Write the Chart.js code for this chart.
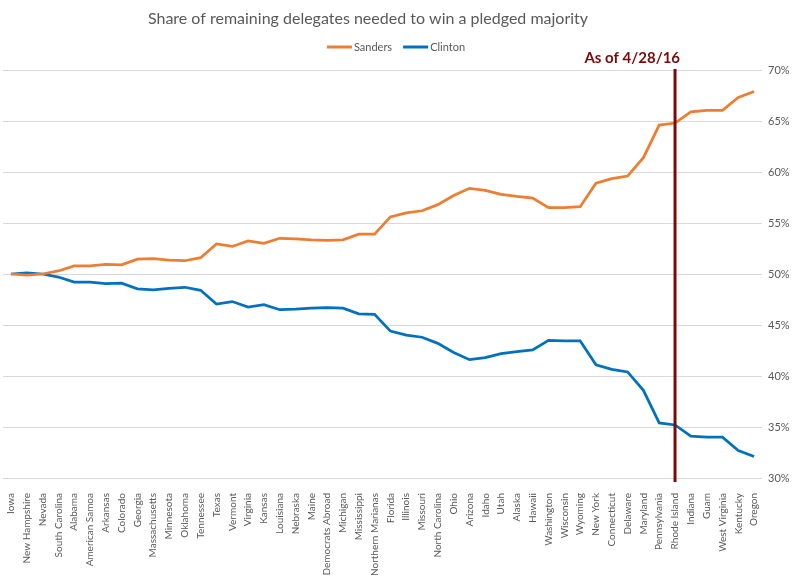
<!DOCTYPE html>
<html>
<head>
<meta charset="utf-8">
<script src="https://cdn.jsdelivr.net/npm/chart.js@4.4.1/dist/chart.umd.min.js"></script>
<style>
  html, body { margin: 0; padding: 0; background: #fff; }
  #wrap { width: 800px; height: 576px; }
</style>
</head>
<body>
<div id="wrap"><canvas id="chart"></canvas></div>
<script>
const states = ["Iowa", "New Hampshire", "Nevada", "South Carolina", "Alabama", "American Samoa",
  "Arkansas", "Colorado", "Georgia", "Massachusetts", "Minnesota", "Oklahoma", "Tennessee", "Texas",
  "Vermont", "Virginia", "Kansas", "Louisiana", "Nebraska", "Maine", "Democrats Abroad", "Michigan",
  "Mississippi", "Northern Marianas", "Florida", "Illinois", "Missouri", "North Carolina", "Ohio",
  "Arizona", "Idaho", "Utah", "Alaska", "Hawaii", "Washington", "Wisconsin", "Wyoming", "New York",
  "Connecticut", "Delaware", "Maryland", "Pennsylvania", "Rhode Island", "Indiana", "Guam",
  "West Virginia", "Kentucky", "Oregon"];

const sanders = [50.0, 49.9, 50.0, 50.3, 50.8, 50.8, 50.95, 50.9, 51.45, 51.5, 51.35, 51.3, 51.6, 52.95,
  52.7, 53.25, 53.0, 53.5, 53.45, 53.35, 53.3, 53.35, 53.9, 53.9, 55.6, 56.0, 56.2, 56.8, 57.7,
  58.4, 58.2, 57.8, 57.6, 57.45, 56.5, 56.5, 56.6, 58.9, 59.35, 59.6, 61.4, 64.6, 64.8, 65.9, 66.05,
  66.05, 67.3, 67.9];

const clinton = [50.0, 50.1, 50.0, 49.7, 49.2, 49.2, 49.05, 49.1, 48.55, 48.45, 48.6, 48.7, 48.4, 47.05,
  47.3, 46.75, 47.0, 46.5, 46.55, 46.65, 46.7, 46.65, 46.1, 46.05, 44.4, 44.0, 43.8, 43.2, 42.3,
  41.6, 41.8, 42.2, 42.4, 42.55, 43.5, 43.45, 43.45, 41.1, 40.65, 40.4, 38.6, 35.4, 35.2, 34.1, 34.0,
  34.0, 32.7, 32.1];

const titleText = "Share of remaining delegates needed to win a pledged majority";
const markerState = "Rhode Island";
const markerText = "As of 4/28/16";

const FONT = "Lato, 'Liberation Sans', sans-serif";
const GREY = '#595959';

// title and legend drawn by hand so they sit where the original has them
const headerPlugin = {
  id: 'header',
  afterDraw(chart) {
    const ctx = chart.ctx;
    ctx.save();
    ctx.fillStyle = GREY;
    ctx.font = "16px " + FONT;
    ctx.textAlign = 'center';
    ctx.textBaseline = 'middle';
    ctx.fillText(titleText, 368, 19);

    // legend: short thick line then the name
    ctx.font = "11px " + FONT;
    ctx.textAlign = 'left';
    const sets = chart.data.datasets;
    const widths = sets.map(d => 25 + 2 + ctx.measureText(d.label).width);
    const gap = 11;
    let x = 396 - (widths.reduce((a, b) => a + b, 0) + gap * (sets.length - 1)) / 2;
    const y = 47;
    sets.forEach((d, i) => {
      ctx.strokeStyle = d.borderColor;
      ctx.lineWidth = 3;
      ctx.beginPath();
      ctx.moveTo(x, y);
      ctx.lineTo(x + 25, y);
      ctx.stroke();
      ctx.fillStyle = GREY;
      ctx.fillText(d.label, x + 27, y);
      x += widths[i] + gap;
    });
    ctx.restore();
  }
};

// vertical "as of" line with its label
const asOfPlugin = {
  id: 'asOf',
  afterDatasetsDraw(chart) {
    const ctx = chart.ctx;
    const x = chart.scales.x.getPixelForValue(states.indexOf(markerState));
    const area = chart.chartArea;
    ctx.save();
    ctx.strokeStyle = '#7b0a0a';
    ctx.lineWidth = 3;
    ctx.beginPath();
    ctx.moveTo(x, area.top - 1);
    ctx.lineTo(x, area.bottom + 4);
    ctx.stroke();
    ctx.fillStyle = '#7b0a0a';
    ctx.font = "bold 15px " + FONT;
    ctx.textAlign = 'right';
    ctx.textBaseline = 'middle';
    ctx.fillText(markerText, x + 5, area.top - 12);
    ctx.restore();
  }
};

new Chart(document.getElementById('chart'), {
  type: 'line',
  data: {
    labels: states,
    datasets: [
      { label: 'Sanders', data: sanders, borderColor: '#ed7d31', backgroundColor: '#ed7d31',
        borderWidth: 2.75, pointRadius: 0, tension: 0 },
      { label: 'Clinton', data: clinton, borderColor: '#0070c0', backgroundColor: '#0070c0',
        borderWidth: 2.75, pointRadius: 0, tension: 0 }
    ]
  },
  options: {
    responsive: true,
    maintainAspectRatio: false,
    animation: false,
    layout: { padding: { left: 3, right: 8, top: 70, bottom: 0 } },
    plugins: {
      title: { display: false },
      legend: { display: false },
      tooltip: { enabled: false }
    },
    scales: {
      x: {
        offset: true,
        grid: { display: false },
        border: { display: false },
        ticks: {
          autoSkip: false,
          minRotation: 90,
          maxRotation: 90,
          color: GREY,
          padding: 7,
          font: { family: FONT, size: 10 }
        },
        afterFit(scale) { scale.height = 98; }
      },
      y: {
        position: 'right',
        min: 30,
        max: 70,
        border: { display: false },
        grid: { color: '#d9d9d9', lineWidth: 1, drawTicks: false },
        ticks: {
          stepSize: 5,
          color: GREY,
          padding: 6,
          font: { family: FONT, size: 11 },
          callback: v => v + '%'
        },
        afterFit(scale) { scale.width = 30; }
      }
    }
  },
  plugins: [asOfPlugin, headerPlugin]
});
</script>
</body>
</html>
